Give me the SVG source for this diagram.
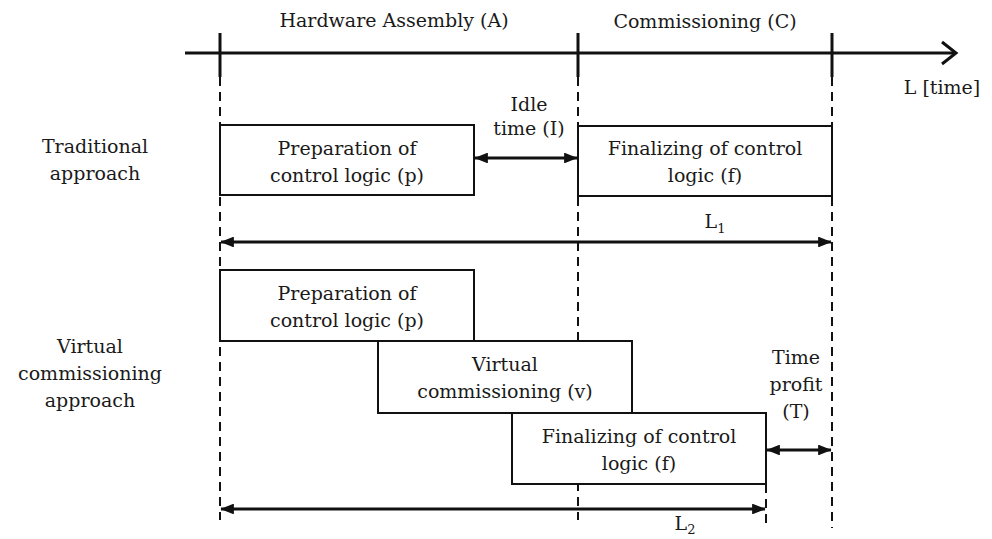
<svg xmlns="http://www.w3.org/2000/svg" width="992" height="539" viewBox="0 0 992 539">
<defs>
<style>
text{font-family:"DejaVu Serif","Liberation Serif",serif;font-size:19px;fill:#1a1a1a;text-anchor:middle}
.box{fill:#fff;stroke:#111;stroke-width:2}
.dash{stroke:#111;stroke-width:2;stroke-dasharray:9,6;fill:none}
.tick{stroke:#111;stroke-width:3}
.arr2{stroke:#111;stroke-width:3;fill:none;marker-start:url(#ahs);marker-end:url(#ah)}
</style>
<marker id="ah" markerWidth="4.5" markerHeight="3.6" refX="4.3" refY="1.8" orient="auto" markerUnits="strokeWidth"><path d="M0,0 L4.5,1.8 L0,3.6 Z" fill="#111"/></marker>
<marker id="ahs" markerWidth="4.5" markerHeight="3.6" refX="0.2" refY="1.8" orient="auto" markerUnits="strokeWidth"><path d="M4.5,0 L0,1.8 L4.5,3.6 Z" fill="#111"/></marker>
</defs>
<rect width="992" height="539" fill="#fff"/>
<g id="connectors">
<line class="dash" x1="220" y1="77" x2="220" y2="520"/>
<line class="dash" x1="578" y1="77" x2="578" y2="520"/>
<line class="dash" x1="832" y1="77" x2="832" y2="528"/>
<line class="dash" x1="766" y1="484" x2="766" y2="524"/>
<path d="M185,53 L954,53" stroke="#111" stroke-width="3"/>
<path d="M942,42 L956,53 L942,64" stroke="#111" stroke-width="3" fill="none"/>
<line class="tick" x1="220" y1="33" x2="220" y2="77"/>
<line class="tick" x1="578" y1="33" x2="578" y2="77"/>
<line class="tick" x1="832" y1="33" x2="832" y2="77"/>
<line class="arr2" x1="475" y1="158" x2="577" y2="158"/>
<line class="arr2" x1="221" y1="242" x2="831" y2="242"/>
<line class="arr2" x1="767" y1="450" x2="831" y2="450"/>
<line class="arr2" x1="221" y1="509" x2="765" y2="509"/>
</g>
<g id="axis-labels">
<text x="394" y="27">Hardware Assembly (A)</text>
<text x="705" y="28">Commissioning (C)</text>
<text x="942" y="94">L  [time]</text>
<text x="529" y="111">Idle</text>
<text x="529" y="135">time (I)</text>
<text x="715" y="228" text-anchor="start">L<tspan font-size="13" dy="5">1</tspan></text>
<text x="685" y="530" text-anchor="start">L<tspan font-size="13" dy="4">2</tspan></text>
<text x="796" y="364">Time</text>
<text x="796" y="391">profit</text>
<text x="796" y="418">(T)</text>
</g>
<g id="row-labels">
<text x="95" y="153">Traditional</text>
<text x="95" y="180">approach</text>
<text x="90" y="353">Virtual</text>
<text x="90" y="380">commissioning</text>
<text x="90" y="407">approach</text>
</g>
<g id="trad-p">
<rect class="box" x="220" y="125" width="254" height="70"/>
<text x="347" y="155">Preparation of</text>
<text x="347" y="182">control logic (p)</text>
</g>
<g id="trad-f">
<rect class="box" x="578" y="126" width="254" height="70"/>
<text x="705" y="155">Finalizing of control</text>
<text x="705" y="182">logic (f)</text>
</g>
<g id="vc-p">
<rect class="box" x="220" y="270" width="254" height="71"/>
<text x="347" y="300">Preparation of</text>
<text x="347" y="327">control logic (p)</text>
</g>
<g id="vc-v">
<rect class="box" x="378" y="341" width="254" height="72"/>
<text x="505" y="371">Virtual</text>
<text x="505" y="398">commissioning (v)</text>
</g>
<g id="vc-f">
<rect class="box" x="512" y="413" width="254" height="71"/>
<text x="639" y="443">Finalizing of control</text>
<text x="639" y="470">logic (f)</text>
</g>
</svg>
